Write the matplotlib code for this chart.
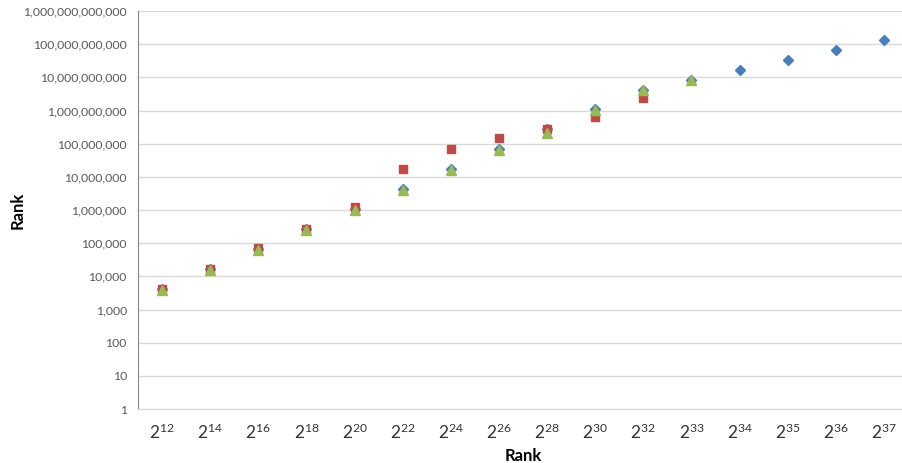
import matplotlib.pyplot as plt
from matplotlib.ticker import FuncFormatter

categories = ['$2^{12}$', '$2^{14}$', '$2^{16}$', '$2^{18}$', '$2^{20}$', '$2^{22}$',
              '$2^{24}$', '$2^{26}$', '$2^{28}$', '$2^{30}$', '$2^{32}$', '$2^{33}$',
              '$2^{34}$', '$2^{35}$', '$2^{36}$', '$2^{37}$']
blue_vals = [4096, 16384, 65536, 262144, 1048576, 4194304, 16777216, 67108864,
             268435456, 1073741824, 4294967296, 8589934592, 17179869184,
             34359738368, 68719476736, 137438953472]
red_vals = [4200, 16800, 72000, 270000, 1260000, 17000000, 70000000, 150000000,
            280000000, 620000000, 2400000000]
green_vals = [4000, 16000, 64000, 256000, 1020000, 4100000, 16400000, 65500000,
              210000000, 1040000000, 4200000000, 8400000000]

plt.rcParams['font.family'] = ['Lato', 'DejaVu Sans']
plt.rcParams['mathtext.fontset'] = 'custom'
plt.rcParams['mathtext.rm'] = 'Lato'
plt.rcParams['mathtext.it'] = 'Lato'

fig = plt.figure(figsize=(9.02, 4.63), dpi=100)
ax = fig.add_axes([138 / 902, 54 / 463, 770 / 902, 398 / 463])

ax.plot(range(len(blue_vals)), blue_vals, 'D', color='#4A7EBB', markersize=5,
        markeredgecolor='#4A7EBB', zorder=3)
ax.plot(range(len(red_vals)), red_vals, 's', color='#BE4B48', markersize=6,
        markeredgecolor='#BE4B48', zorder=4)
ax.plot(range(len(green_vals)), green_vals, '^', color='#98B954', markersize=6.5,
        markeredgecolor='#98B954', zorder=5)

ax.set_yscale('log')
ax.set_ylim(1, 1e12)
ax.set_xlim(-0.5, len(categories) - 0.5)
ax.set_yticks([10 ** i for i in range(13)])
ax.yaxis.set_major_formatter(FuncFormatter(lambda v, p: '{:,.0f}'.format(v)))
ax.minorticks_off()
ax.set_xticks(range(len(categories)))
ax.set_xticklabels(categories, fontsize=12.5, color='#333333')
ax.tick_params(axis='y', labelsize=8.8, labelcolor='#595959', length=0, pad=8)
ax.tick_params(axis='x', length=0, pad=10)

ax.grid(axis='y', color='#D9D9D9', linewidth=1)
ax.set_axisbelow(True)
for s in ['top', 'right']:
    ax.spines[s].set_visible(False)
ax.spines['left'].set_color('#868686')
ax.spines['bottom'].set_color('#D9D9D9')

ax.set_xlabel('Rank', fontsize=12, fontweight='bold', labelpad=4)
ax.set_ylabel('Rank', fontsize=12, fontweight='bold')
ax.yaxis.set_label_coords(-0.146, 0.5)

fig.savefig('out.png', dpi=100)
